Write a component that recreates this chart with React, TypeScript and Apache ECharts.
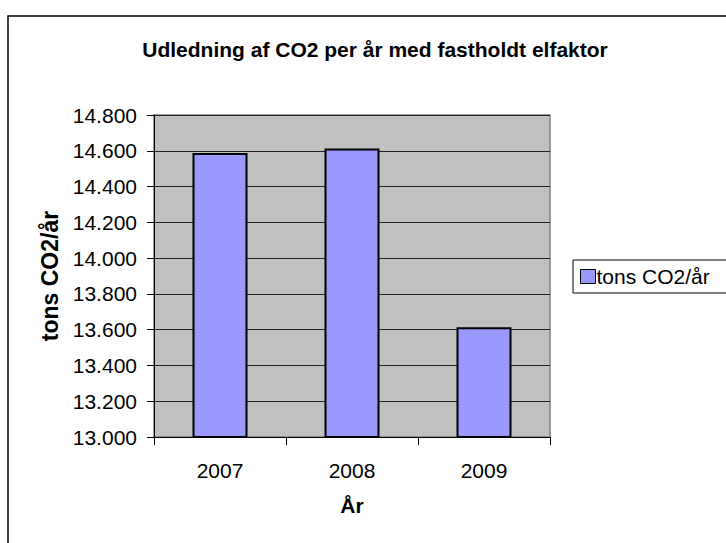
import React, { useEffect, useRef } from "react";
import * as echarts from "echarts";

const title = "Udledning af CO2 per år med fastholdt elfaktor";
const categories = ["2007", "2008", "2009"];
const seriesName = "tons CO2/år";
const values = [14587, 14613, 13613];
const yAxisName = "tons CO2/år";
const xAxisName = "År";
const yMin = 13000;
const yMax = 14800;
const yInterval = 200;

const FONT = "'Liberation Sans', Arial, sans-serif";

function fmt(v: number): string {
  const s = Math.round(v).toString();
  return s.replace(/\B(?=(\d{3})+(?!\d))/g, ".");
}

export default function App() {
  const ref = useRef<HTMLDivElement>(null);
  useEffect(() => {
    if (!ref.current) return;
    const chart = echarts.init(ref.current, undefined, { renderer: "svg" });
    chart.setOption({
      animation: false,
      backgroundColor: "#ffffff",
      textStyle: { fontFamily: FONT },
      title: {
        text: title,
        left: 370,
        textAlign: "center",
        top: 34,
        textStyle: { fontSize: 21, fontWeight: "bold", color: "#000", fontFamily: FONT },
      },
      graphic: [
        {
          type: "rect",
          shape: { x: 8, y: 16, width: 800, height: 600 },
          style: { fill: "none", stroke: "#000", lineWidth: 1.5 },
          silent: true,
        },
      ],
      legend: {
        left: 573,
        top: 260,
        orient: "vertical",
        borderColor: "#000",
        borderWidth: 1,
        padding: [6, 60, 6, 7],
        itemWidth: 15,
        itemHeight: 14,
        itemGap: 2,
        icon: "rect",
        textStyle: { fontSize: 21, color: "#000", fontFamily: FONT, padding: [0, 0, 0, -4] },
        data: [{ name: seriesName, itemStyle: { borderColor: "#000", borderWidth: 1 } }],
      },
      grid: {
        left: 154,
        top: 115,
        width: 396,
        height: 322,
        show: true,
        backgroundColor: "#C0C0C0",
        borderColor: "#808080",
        borderWidth: 1.5,
      },
      xAxis: {
        type: "category",
        data: categories,
        name: xAxisName,
        nameLocation: "middle",
        nameGap: 58,
        nameTextStyle: { fontSize: 21, fontWeight: "bold", color: "#000", fontFamily: FONT },
        axisLine: { lineStyle: { color: "#000", width: 1 } },
        axisTick: { show: true, length: 8, lineStyle: { color: "#000" }, alignWithLabel: false },
        axisLabel: { fontSize: 21, color: "#000", margin: 23, fontFamily: FONT },
        splitLine: { show: false },
      },
      yAxis: {
        type: "value",
        min: yMin,
        max: yMax,
        interval: yInterval,
        name: yAxisName,
        nameLocation: "middle",
        nameGap: 91,
        nameRotate: 90,
        nameTextStyle: { fontSize: 23, fontWeight: "bold", color: "#000", fontFamily: FONT },
        axisLine: { show: true, lineStyle: { color: "#000", width: 1 } },
        axisTick: { show: true, length: 7, lineStyle: { color: "#000" } },
        axisLabel: { fontSize: 21, color: "#000", margin: 17, formatter: (v: number) => fmt(v), fontFamily: FONT },
        splitLine: { show: true, lineStyle: { color: "#222", width: 1 } },
      },
      series: [
        {
          name: seriesName,
          type: "bar",
          data: values,
          barWidth: 55,
          itemStyle: { color: "#9999FF", borderColor: "#000", borderWidth: 2 },
        },
      ],
    });
    return () => chart.dispose();
  }, []);
  return (
    <div
      ref={ref}
      style={{ position: "fixed", left: 0, top: 0, width: 726, height: 543 }}
    />
  );
}
